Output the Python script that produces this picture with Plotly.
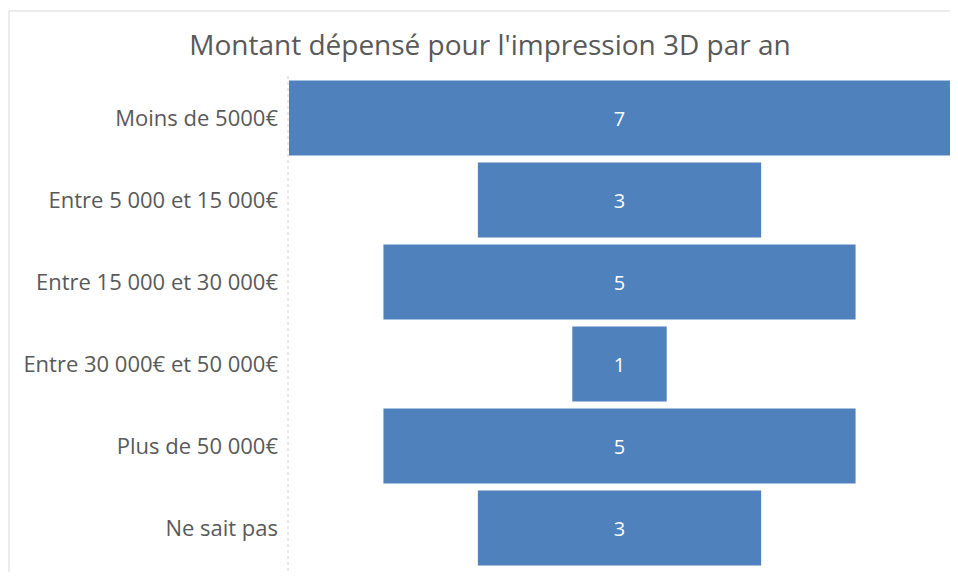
import plotly.graph_objects as go

categories = ["Moins de 5000€", "Entre 5 000 et 15 000€", "Entre 15 000 et 30 000€",
              "Entre 30 000€ et 50 000€", "Plus de 50 000€", "Ne sait pas"]
values = [7, 3, 5, 1, 5, 3]

# page body has an 8px margin; size the figure so that it fits the window exactly
W, H = 942, 564
L, R, T, B = 281, 0, 69, 3
pw = W - L - R
ph = H - T - B

fig = go.Figure(go.Funnel(
    y=categories, x=values,
    textinfo="value", textposition="inside",
    insidetextfont=dict(color="white", size=20, family="Open Sans"),
    marker=dict(color="#4F81BD", line=dict(width=0)),
    connector=dict(visible=False),
    hoverinfo="y+x",
))

fig.update_layout(
    width=W, height=H,
    margin=dict(l=L, r=R, t=T, b=B),
    paper_bgcolor="white", plot_bgcolor="white",
    funnelgap=0.085,
    showlegend=False,
    title=dict(text="Montant dépensé pour l'impression 3D par an",
               x=482 / W, xanchor="center", y=1 - 37 / H, yanchor="middle",
               font=dict(family="Open Sans", size=28, color="#595959")),
    xaxis=dict(visible=False, range=[-3.5, 3.5], fixedrange=True),
    yaxis=dict(showgrid=False, zeroline=False, showline=False, ticks="",
               tickfont=dict(family="Open Sans", size=22, color="#595959"),
               ticklabelstandoff=10, autorange="reversed"),
)

# y-axis dotted line
fig.add_shape(type="line", xref="paper", yref="paper",
              x0=-1 / pw, x1=-1 / pw, y0=-2 / ph, y1=1 + 2 / ph,
              line=dict(color="#D0D0D0", width=1, dash="dot"))
# chart area border
fig.add_shape(type="rect", xref="paper", yref="paper",
              x0=(1 - L) / pw, x1=(W + 20 - L) / pw,
              y0=-(H + 20 - T - ph) / ph, y1=(H - B - 3) / ph,
              line=dict(color="#D9D9D9", width=1), fillcolor="rgba(0,0,0,0)")

fig.write_html("out.html")
